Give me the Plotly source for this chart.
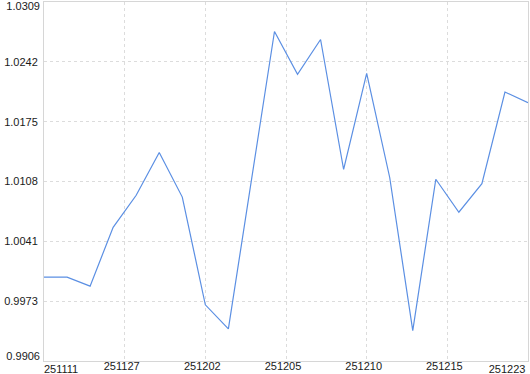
import plotly.graph_objects as go

# data
point_index = list(range(22))
values = [1.0000, 1.0000, 0.9990, 1.0056, 1.0092, 1.0140, 1.0090, 0.9969,
          0.9942, 1.0109, 1.0276, 1.0228, 1.0267, 1.0121, 1.0229, 1.0112,
          0.9940, 1.0110, 1.0073, 1.0105, 1.0208, 1.0196]
x_tick_pos = [0, 3.5, 7, 10.5, 14, 17.5, 21]
x_tick_text = ["251111", "251127", "251202", "251205", "251210", "251215", "251223"]
y_tick_vals = [0.9906, 0.99732, 1.00403, 1.01075, 1.01747, 1.02418, 1.0309]
y_tick_text = ["0.9906", "0.9973", "1.0041", "1.0108", "1.0175", "1.0242", "1.0309"]

# the reference pulls its edge labels inside the plot span; they go on overlay axes
x_edge_pos = [0.74, 20.09]
y_edge_pos = [0.99116, 1.03045]

x_mid_text = [""] + x_tick_text[1:-1] + [""]
y_mid_text = [""] + y_tick_text[1:-1] + [""]
x_edge_text = [x_tick_text[0], x_tick_text[-1]]
y_edge_text = [y_tick_text[0], y_tick_text[-1]]

font = dict(family="Liberation Sans, Arial, sans-serif", size=11, color="#1a1a1a")
x_range = [0, 21]
y_range = [0.99059, 1.03091]

fig = go.Figure()
fig.add_trace(go.Scatter(
    x=point_index, y=values, mode="lines",
    line=dict(color="#5b8fe3", width=1.2),
    hoverinfo="skip", showlegend=False,
))
# carrier trace for the overlay axes (draws nothing)
fig.add_trace(go.Scatter(
    x=x_range, y=[None, None], xaxis="x2", yaxis="y2", mode="lines",
    hoverinfo="skip", showlegend=False,
))

axis_common = dict(
    zeroline=False, ticks="", automargin=False, ticklabeloverflow="allow",
    tickfont=font, tickmode="array",
)

fig.update_layout(
    width=530, height=374,
    margin=dict(l=44, r=2, t=2, b=13),
    paper_bgcolor="white", plot_bgcolor="white",
    xaxis=dict(range=x_range, tickvals=x_tick_pos, ticktext=x_mid_text,
               ticklabelshift=-3, ticklabelstandoff=-5,
               showline=True, linecolor="#d6d6d6", linewidth=1, mirror=True,
               showgrid=True, gridcolor="#dcdcdc", griddash="3px,3px", gridwidth=1,
               **axis_common),
    yaxis=dict(range=y_range, tickvals=y_tick_vals, ticktext=y_mid_text,
               ticklabelstandoff=3,
               showline=True, linecolor="#d6d6d6", linewidth=1, mirror=True,
               showgrid=True, gridcolor="#dcdcdc", griddash="3px,3px", gridwidth=1,
               **axis_common),
    xaxis2=dict(range=x_range, overlaying="x", anchor="y", side="bottom",
                tickvals=x_edge_pos, ticktext=x_edge_text, ticklabelstandoff=0,
                showline=False, showgrid=False, **axis_common),
    yaxis2=dict(range=y_range, overlaying="y", anchor="x", side="left",
                tickvals=y_edge_pos, ticktext=y_edge_text, ticklabelstandoff=3,
                showline=False, showgrid=False, **axis_common),
)

fig.write_html("out.html")
